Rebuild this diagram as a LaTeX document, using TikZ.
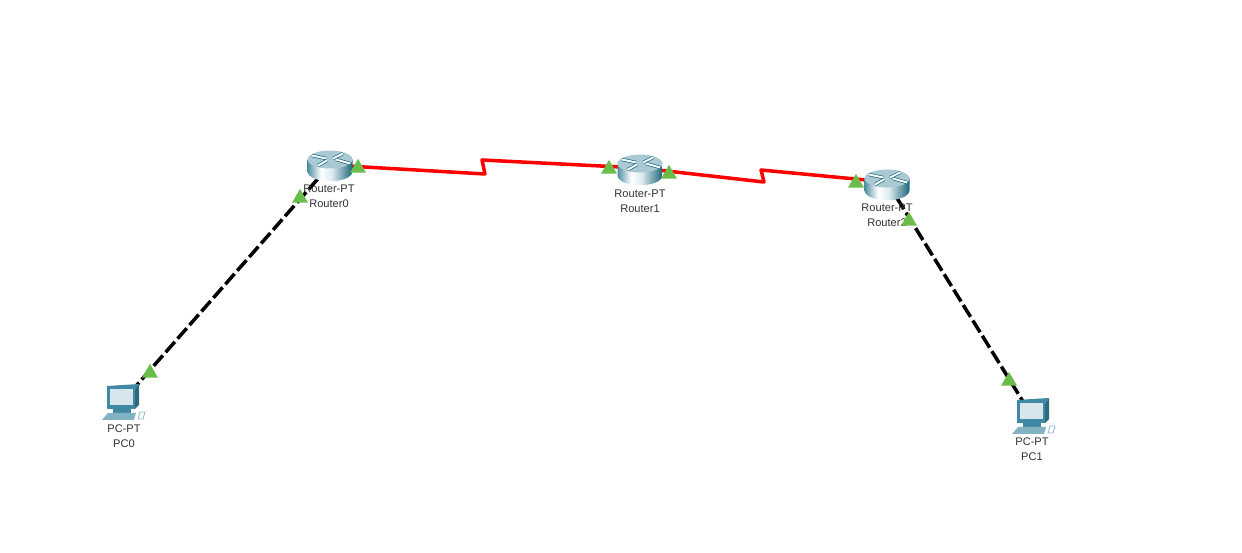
\documentclass[tikz,border=0pt]{standalone}
\usepackage{fontspec}
\setmainfont{Liberation Sans}
\usepackage{xcolor}
\usetikzlibrary{shapes.geometric}

\definecolor{linkgreen}{HTML}{6ABD4B}
\definecolor{routerteal}{HTML}{4F8FA2}
\definecolor{routerdark}{HTML}{1B6579}
\definecolor{routermid}{HTML}{DCEBEF}
\definecolor{routertop}{HTML}{A9CAD4}
\definecolor{pcframe}{HTML}{3F8AA2}
\definecolor{pcscreen}{HTML}{D6E6EC}
\definecolor{labelgrey}{HTML}{333333}

\pgfdeclarehorizontalshading{routerbody}{100bp}{
    color(0bp)=(routerteal); color(25bp)=(routerteal); color(40bp)=(white);
    color(52bp)=(routermid); color(75bp)=(routerdark); color(100bp)=(routerdark)}

\tikzset{
    serial/.style={draw=red, line width=2pt, line join=round},
    straight/.style={draw=black, line width=2pt, dash pattern=on 7.9pt off 2.4pt},
    linkup/.style={regular polygon, regular polygon sides=3, fill=linkgreen,
        inner sep=0pt, minimum size=10.4pt},
    devlabel/.style={text=labelgrey, inner sep=0pt,
        font=\fontsize{6.3}{7}\selectfont},
    pics/routericon/.style={code={
        \path[shading=routerbody]
            (-22.5,0) -- (-22.5,12) .. controls (-21,25) and (21,25) .. (22.5,12)
            -- (22.5,0) -- cycle;
        \fill[routertop] (0,0) ellipse (22.5 and 9);
        \foreach \xa/\ya/\xb/\yb in {-4/-1/-18/-4, 3/-1/13/-6, -3/1/-12/6, 6/0/20/4} {
            \draw[routerdark, line width=1.9pt] (\xa,\ya) -- (\xb,\yb);
            \draw[white, line width=1.1pt] (\xa,\ya) -- (\xb,\yb);
        }
    }},
    pics/pcicon/.style={code={
        \fill[pcframe!75!black] (13,-12) -- (17,-18) -- (17,3) -- (13,7) -- cycle;
        \fill[pcframe] (-15,-16) -- (17,-18) -- (13,-12) -- (13,7) -- (-15,7) -- cycle;
        \fill[pcscreen] (-12,-13) rectangle (11,3);
        \fill[pcframe] (-9,7) rectangle (9,11);
        \fill[pcframe!65!white] (-14,11) -- (14,11) -- (12,18) -- (-20,18) -- cycle;
        \draw[pcframe!60!white, line width=0.5pt, fill=white] (18,10) -- (23,10) -- (21,17)
            -- (16,17) -- cycle;
    }}
}

\begin{document}
\begin{tikzpicture}[x=0.02cm, y=-0.02cm]
    \useasboundingbox (0,0) rectangle (1242,553);
    % devices
    \coordinate (Router0) at (330,165);
    \coordinate (Router1) at (640,168);
    \coordinate (Router2) at (887,182);
    \coordinate (PC0) at (122,402);
    \coordinate (PC1) at (1032,416);
    % bends of the serial links
    \coordinate (bend0a) at (485,174);
    \coordinate (bend0b) at (482,160);
    \coordinate (bend1a) at (764,182);
    \coordinate (bend1b) at (761,170);
    % links
    \draw[serial] (Router0) -- (bend0a) -- (bend0b) -- (Router1);
    \draw[serial] (Router1) -- (bend1a) -- (bend1b) -- (Router2);
    \draw[straight] (Router0) -- (PC0);
    \draw[straight] (Router2) -- (PC1);
    % icons
    \pic at (330,159.5) {routericon};
    \pic at (640,163.5) {routericon};
    \pic at (887,178.5) {routericon};
    \pic at (122,402) {pcicon};
    \pic at (1032,416) {pcicon};
    % labels
    \node[devlabel] (type0) at (329,188.5) {Router-PT};
    \node[devlabel] (name0) at (329,203.5) {Router0};
    \node[devlabel] (type1) at (640,193.5) {Router-PT};
    \node[devlabel] (name1) at (640,208.5) {Router1};
    \node[devlabel] (type2) at (887,207.5) {Router-PT};
    \node[devlabel] (name2) at (887,222.5) {Router2};
    \node[devlabel] (typepc0) at (124,428.5) {PC-PT};
    \node[devlabel] (namepc0) at (124,443.5) {PC0};
    \node[devlabel] (typepc1) at (1032,441.5) {PC-PT};
    \node[devlabel] (namepc1) at (1032,456.5) {PC1};
    % link lights
    \node[linkup] (light0) at (358,168) {};
    \node[linkup] (light1) at (609,169) {};
    \node[linkup] (light2) at (669,174) {};
    \node[linkup] (light3) at (856,183) {};
    \node[linkup] (light4) at (300,198) {};
    \node[linkup] (light5) at (150,373) {};
    \node[linkup] (light6) at (909,221) {};
    \node[linkup] (light7) at (1009,381) {};
\end{tikzpicture}
\end{document}
